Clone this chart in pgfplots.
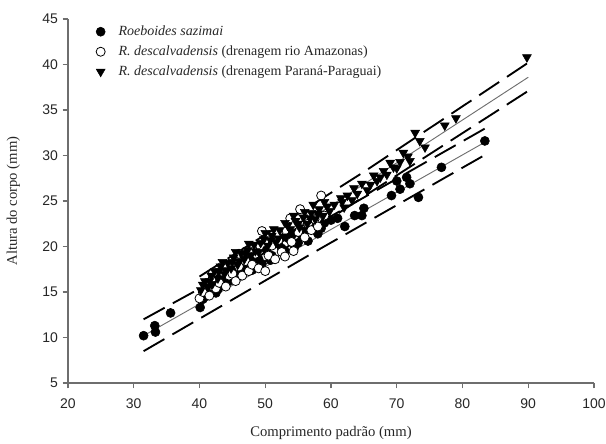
\documentclass[border=0pt]{standalone}
\usepackage{fontspec}
\setmainfont{Liberation Serif}
\newfontfamily\arial{Liberation Sans}
\usepackage{pgfplots}
\pgfplotsset{compat=1.18}
\definecolor{ink}{HTML}{262626}
\definecolor{axisgray}{HTML}{6E6E6E}

\begin{document}
\begin{tikzpicture}
\begin{axis}[
  name=ax,
  width=394.5pt, height=273pt, scale only axis,
  xmin=20, xmax=100, ymin=5, ymax=45,
  xtick={20,30,...,100}, ytick={5,10,...,45},
  axis x line*=bottom, axis y line*=left,
  axis line style={axisgray, line width=0.8pt},
  tick style={axisgray, line width=0.8pt},
  tick align=outside, major tick length=4pt,
  /pgf/number format/assume math mode=true,
  ticklabel style={font=\arial\fontsize{10.5}{12}\selectfont, text=ink},
  xticklabel style={yshift=-4pt},
  xlabel={Comprimento padrão (mm)}, ylabel={Altura do corpo (mm)},
  label style={font=\fontsize{11}{13}\selectfont, text=ink},
  xlabel style={at={(axis description cs:0.5,-0.137)}, anchor=center},
  ylabel style={at={(axis description cs:-0.104,0.5)}, anchor=center},
  legend style={draw=none, fill=none, inner sep=0pt, at={(0.053,0.985)}, anchor=north west,
    font=\fontsize{10.5}{12}\selectfont, text=ink, row sep=4.5pt,
    nodes={inner sep=0pt, text height=8pt, text depth=2.5pt},
    /tikz/every odd column/.append style={column sep=10pt}},
  legend cell align=left,
]
% Roeboides sazimai
\addplot[only marks, mark=*, mark size=3.4pt, draw=black, fill=black] coordinates {
(31.5,10.2) (33.2,11.3) (33.3,10.6) (35.6,12.7) (40.1,13.3) (40.5,14.2)
(41,15.5) (41.5,14.8) (42,16.1) (42.8,15.3) (43.5,16.5) (44,15.8)
(45,17.2) (45.5,16.6) (46.5,17.5) (47,18.5) (48,17.4) (48.5,18.8)
(49.5,18.1) (50.2,19.6) (51,19.0) (52,20.3) (53,19.5) (53.5,20.9)
(54.5,20.0) (55.5,21.3) (56.5,20.6) (57,22.1) (58,21.4) (59,22.6)
(40.8,15.0) (41.8,15.9) (42.5,14.9) (43,16.9) (44.5,16.3) (46,16.9)
(47.5,17.8) (49,18.6) (50.8,18.5) (52.5,19.8) (54,21.2) (55,20.4)
(56,21.7) (58.5,22.0) (60,22.9) (61,23.1) (65,24.2)
(62.1,22.2) (63.6,23.4) (64.7,23.4) (69.2,25.6) (70.5,26.3) (71.5,27.6)
(73.3,25.4) (76.8,28.7) (83.4,31.6) (72,26.9) (70,27.2)
};
% R. descalvadensis, Amazonas
\addplot[only marks, mark=*, mark size=3.4pt, draw=black, fill=white, line width=0.6pt] coordinates {
(40,14.3) (40.5,15.0) (41,15.8) (41.5,14.6) (42,16.5) (42.5,15.4)
(43,16.0) (43.5,17.2) (44,15.6) (44.5,16.8) (45,17.0) (45.5,16.2)
(46,17.8) (46.5,16.8) (47,18.4) (47.5,17.3) (48,18.0) (48.5,19.2)
(49,17.6) (49.5,21.7) (50,17.3) (50.5,19.0) (51,20.1) (51.5,18.6)
(52,20.7) (52.5,19.4) (53,18.9) (53.8,23.1) (54,20.5) (54.3,19.5)
(55,21.6) (55.3,24.1) (56,21.0) (56.5,22.5) (57,21.8) (57.5,23.0)
(58,22.2) (58.5,25.6) (59,23.4) (42,17.0) (44,18.0) (46,19.2)
(48,19.8) (52,21.5) (55,23.0)
};
% R. descalvadensis, Parana-Paraguai
\addplot[only marks, mark=triangle*, mark options={rotate=180}, mark size=3.8pt, draw=black, fill=black] coordinates {
(40.2,15.2) (40.8,16.2) (41.2,15.6) (41.8,16.8) (42.3,17.3) (42.8,16.5)
(43.2,17.8) (43.8,17.0) (44.3,18.2) (44.8,17.6) (45.2,18.8) (45.8,18.0)
(46.3,19.3) (46.8,18.6) (47.3,19.6) (47.8,19.0) (48.3,20.2) (49,19.4)
(49.8,20.8) (50.4,20.1) (51,21.2) (51.6,20.5) (52.2,21.8) (52.8,21.1)
(53.4,22.3) (54,21.6) (54.6,22.8) (55.2,22.1) (55.8,23.2) (56.4,22.5)
(57,23.7) (57.6,23.0) (58.2,24.1) (58.8,23.4) (59.4,24.4)
(40.5,15.8) (41.5,16.2) (42,15.9) (43,17.3) (43.5,18.3) (44,17.4)
(45,18.3) (45.5,19.4) (46,18.4) (47,19.2) (47.5,20.3) (48.5,19.5)
(49.3,20.4) (50,21.5) (50.8,20.7) (51.3,21.9) (52,20.9) (53,22.6)
(53.8,21.9) (54.3,23.4) (55,22.5) (56,23.8) (56.8,23.1) (57.3,24.6)
(58,23.6) (59,24.9) (59.8,23.9)
(60.5,24.6) (61.5,25.3) (62,24.3) (64,25.8) (66,26.8) (66.5,27.8)
(67.5,27.6) (68.5,27.9) (69,29.2) (70,28.6) (71,30.3) (72,29.4)
(61.7,24.9) (63.2,25.1) (62.5,25.6) (63.5,26.4) (64.7,26.9) (65.5,26.2)
(67,27.2) (68,28.3) (69.5,28.7) (70.5,29.3) (71.7,29.9) (72.8,32.5)
(74.3,30.9) (73.5,31.6) (77.3,33.3) (79,34.1) (89.8,40.8)
};
\legend{\textit{Roeboides sazimai},
  \textit{R. descalvadensis} (drenagem rio Amazonas),
  \textit{R. descalvadensis} (drenagem Paraná-Paraguai)}
% regression lines and prediction bands
\addplot[forget plot, axisgray, line width=0.7pt] coordinates {(31.5,10.2) (83.5,31.5)};
\addplot[forget plot, black, line width=1.4pt, dash pattern=on 18pt off 7pt] coordinates {(31.5,12.0) (57.5,22.3) (83.5,33.0)};
\addplot[forget plot, black, line width=1.4pt, dash pattern=on 18pt off 7pt] coordinates {(31.5,8.5) (57.5,19.4) (83.5,30.1)};
\addplot[forget plot, axisgray, line width=0.7pt] coordinates {(40,15.1) (90,38.6)};
\addplot[forget plot, black, line width=1.4pt, dash pattern=on 18pt off 7pt] coordinates {(40,16.7) (65,28.2) (90,40.2)};
\addplot[forget plot, black, line width=1.4pt, dash pattern=on 18pt off 7pt] coordinates {(40,13.6) (65,25.5) (90,37.1)};
\end{axis}
\pgfresetboundingbox
\path[use as bounding box] (ax.south west) ++(-51pt,-45pt) rectangle ([shift={(9pt,14.25pt)}]ax.north east);
\end{tikzpicture}
\end{document}
